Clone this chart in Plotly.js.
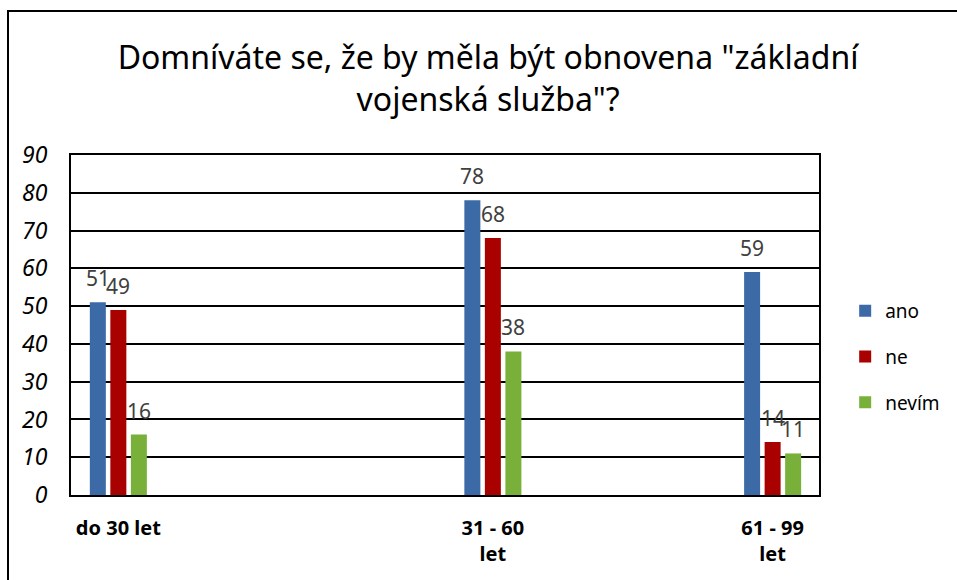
<!DOCTYPE html>
<html>
<head>
<meta charset="utf-8">
<script src="https://cdn.plot.ly/plotly-3.0.1.min.js"></script>
<style>
  html, body { margin: 0; padding: 0; background: #fff; }
  #wrap { position: relative; width: 957px; height: 580px; overflow: hidden; }
  #chart { width: 957px; height: 580px; }
  #frame { position: absolute; left: 7px; top: 10px; width: 960px; height: 580px;
           border-left: 2px solid #000; border-top: 2px solid #000; pointer-events: none; }
</style>
</head>
<body>
<div id="wrap">
  <div id="chart"></div>
  <div id="frame"></div>
</div>
<script>
// ---- data ----
const categories = ["do 30 let", "31 - 60<br>let", "61 - 99<br>let"];
const categoryPos = [6.33, 56.4, 93.8];
const seriesNames = ["ano", "ne", "nevím"];
const ano = [51, 78, 59];
const ne = [49, 68, 14];
const nevim = [16, 38, 11];
const yTicks = [0, 10, 20, 30, 40, 50, 60, 70, 80, 90];
const titleText = 'Domníváte se, že by měla být obnovena "základní<br>vojenská služba"?';

// ---- styling ----
const colors = ["#3b6aa6", "#a90000", "#78b03a"];
const seriesValues = [ano, ne, nevim];
const bargap = 0.78;
const bargroupgap = 0.22;
const font = '"Noto Sans", "Open Sans", sans-serif';

const traces = seriesValues.map((vals, j) => ({
  type: 'bar',
  name: seriesNames[j],
  x: categoryPos,
  y: vals,
  legendgroup: 'g' + j,
  marker: { color: colors[j], line: { width: 0 } },
  hoverinfo: 'y'
}));

// data labels placed through the axis scale
let minSpacing = Infinity;
for (let i = 1; i < categoryPos.length; i++) minSpacing = Math.min(minSpacing, categoryPos[i] - categoryPos[i - 1]);
const slot = minSpacing * (1 - bargap) / seriesValues.length;
const annotations = [];
seriesValues.forEach((vals, j) => {
  vals.forEach((v, i) => {
    annotations.push({
      x: categoryPos[i] + (j - (seriesValues.length - 1) / 2) * slot,
      y: v, xref: 'x', yref: 'y',
      text: String(v), showarrow: false,
      yanchor: 'middle', yshift: 24,
      font: { family: font, size: 21, color: '#404040' }
    });
  });
});

const layout = {
  width: 957, height: 580,
  margin: { l: 71, r: 136, t: 155, b: 85 },
  paper_bgcolor: '#fff', plot_bgcolor: '#fff',
  title: {
    text: titleText,
    font: { family: font, size: 32, color: '#000' },
    x: 0.51, xanchor: 'center', xref: 'container',
    y: 1, yanchor: 'bottom', yref: 'paper',
    pad: { b: 86 }
  },
  barmode: 'group',
  bargap: bargap,
  bargroupgap: bargroupgap,
  showlegend: true,
  legend: {
    x: 1.035, xanchor: 'left', y: 0.406, yanchor: 'middle',
    font: { family: font, size: 19, color: '#000' },
    traceorder: 'grouped', tracegroupgap: 18,
    bgcolor: 'rgba(0,0,0,0)'
  },
  xaxis: {
    range: [0, 100],
    tickmode: 'array', tickvals: categoryPos, ticktext: categories,
    ticks: '', showgrid: false, zeroline: false,
    showline: true, linecolor: '#000', linewidth: 2, mirror: true,
    tickfont: { family: font, size: 20, color: '#000', weight: 'bold' },
    ticklabelstandoff: 14
  },
  yaxis: {
    range: [0, 90],
    tickmode: 'array', tickvals: yTicks, ticktext: yTicks.map(String),
    ticks: '', showgrid: true, gridcolor: '#000', gridwidth: 2,
    zeroline: false,
    showline: true, linecolor: '#000', linewidth: 2, mirror: true,
    tickfont: { family: font, size: 23, color: '#000', style: 'italic' },
    ticklabelstandoff: 17
  },
  annotations: annotations
};

Plotly.newPlot('chart', traces, layout, { displayModeBar: false, staticPlot: true });
</script>
</body>
</html>
